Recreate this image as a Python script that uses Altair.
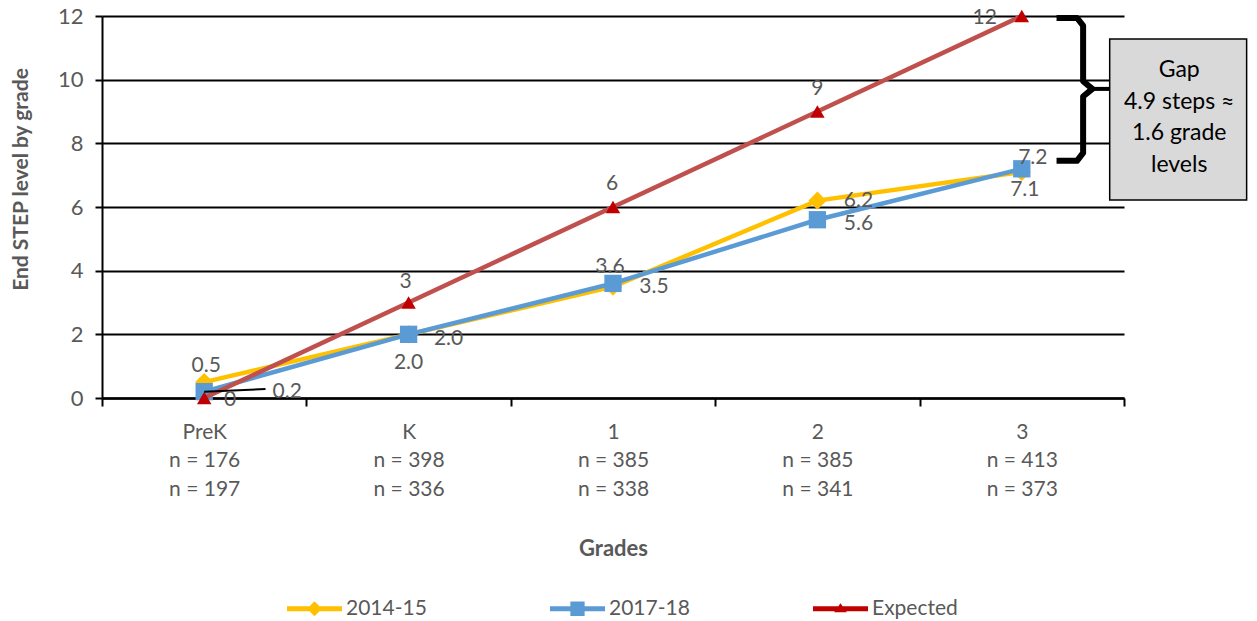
import altair as alt
import pandas as pd

# ---------------- data ----------------
series = ["2014-15", "2017-18", "Expected"]
grades = ["PreK", "K", "1", "2", "3"]
n_2014 = [176, 398, 385, 385, 413]
n_2017 = [197, 336, 338, 341, 373]
v_2014 = [0.5, 2.0, 3.5, 6.2, 7.1]
v_2017 = [0.2, 2.0, 3.6, 5.6, 7.2]
v_exp = [0, 3, 6, 9, 12]
y_ticks = [0, 2, 4, 6, 8, 10, 12]
gap_lines = ["Gap", "4.9 steps \u2248", "1.6 grade", "levels"]

# ---------------- styles ----------------
GRAY = "#595959"
line_colors = ["#FFC000", "#5B9BD5", "#C0504D"]
marker_colors = ["#FFC000", "#5B9BD5", "#C00000"]
marker_shapes = ["diamond", "square", "triangle-up"]
marker_sizes = [330, 300, 210]
# legend symbols: line segment + marker, in the unit box [-1, 1]
LINE_PART = "M-1,-0.09L1,-0.09L1,0.09L-1,0.09Z"
legend_paths = [
    LINE_PART + "M-0.27,0L0,-0.27L0.27,0L0,0.27Z",
    LINE_PART + "M-0.26,-0.26L0.26,-0.26L0.26,0.26L-0.26,0.26Z",
    LINE_PART + "M0,-0.2L0.23,0.13L-0.23,0.13Z",
]
# data-label pixel offsets (dx, dy) per series / grade
label_offsets = {
    "2014-15": [(2, -16), (40, 5), (41, 0), (41, 0), (3, 18)],
    "2017-18": [(83, 0), (0, 29), (-3, -16), (41, 4), (11, -11)],
    "Expected": [(26, 2), (-3, -21), (-1, -23), (0, -23), (-37, 2)],
}
# annotation geometry (in data units)
box_x, box_x2, box_y, box_y2 = 4.43, 5.10, 6.22, 11.28
gap_text_x, gap_text_y = 4.77, 10.30   # position of the first text line
bracket_x = [4.17, 4.27, 4.30, 4.30, 4.345, 4.30, 4.30, 4.27, 4.17]
bracket_y = [11.94, 11.94, 11.70, 9.95, 9.71, 9.47, 7.70, 7.45, 7.45]
connector_x, connector_x2, connector_y = 4.345, 4.43, 9.71
leader_end_x, leader_end_y = 0.30, 0.28

rows = []
for s, vals in zip(series, [v_2014, v_2017, v_exp]):
    for i, (g, v) in enumerate(zip(grades, vals)):
        rows.append({
            "series": s, "idx": i, "grade": g, "value": v,
            "label": f"{v:g}" if s == "Expected" else f"{v:.1f}",
        })
df = pd.DataFrame(rows)

x_scale = alt.Scale(domain=[-0.5, len(grades) - 0.5], nice=False, zero=False)
y_scale = alt.Scale(domain=[0, 12], nice=False, zero=False)

label_expr = (
    "datum.value > %d ? '' : [" % (len(grades) - 1)
    + ",".join("['%s','n = %d','n = %d']" % (g, a, b) for g, a, b in zip(grades, n_2014, n_2017))
    + "][round(datum.value + 0.5)]"
)

x_axis = alt.Axis(
    values=[i - 0.5 for i in range(len(grades) + 1)],
    labelExpr=label_expr, labelOffset=102.2, labelFlush=False, labelOverlap=False,
    labelBound=False, labelFontSize=21, labelColor=GRAY, labelLineHeight=28.5,
    labelPadding=15, labelAlign="center", labelBaseline="top",
    tickSize=8, tickColor="black", tickWidth=2,
    domainColor="black", domainWidth=2.5, grid=False,
    title="Grades", titleFontSize=22, titleFontWeight="bold", titleColor=GRAY, titlePadding=39,
)
y_axis = alt.Axis(
    values=y_ticks, grid=True, gridColor="black", gridWidth=1.8,
    domainColor="black", domainWidth=2, tickColor="black", tickSize=7, tickWidth=2,
    labelFontSize=22, labelColor=GRAY, labelPadding=12,
    title="End STEP level by grade", titleFontSize=21, titleFontWeight="bold",
    titleColor=GRAY, titlePadding=26, titleY=163,
)


def X(field):
    return alt.X(field, scale=x_scale, axis=x_axis)


def Y(field):
    return alt.Y(field, scale=y_scale, axis=y_axis)


base = alt.Chart(df)
layers = []

# series lines and markers
for k, s in enumerate(series):
    sub = base.transform_filter(alt.datum.series == s)
    line = sub.mark_line(color=line_colors[k], strokeWidth=4.5).encode(
        x=X("idx:Q"), y=Y("value:Q"), order="idx:Q",
    )
    pts = sub.mark_point(shape=marker_shapes[k], filled=True, fill=marker_colors[k],
                         size=marker_sizes[k], opacity=1, strokeWidth=0).encode(
        x=X("idx:Q"), y=Y("value:Q"),
    )
    layers += [line, pts]

# leader line for the 0.2 label
leader_df = pd.DataFrame({"idx": [0], "value": [v_2017[0]], "x2": [leader_end_x], "y2": [leader_end_y]})
leader = alt.Chart(leader_df).mark_rule(color="black", strokeWidth=2).encode(
    x=X("idx:Q"), x2="x2:Q", y=Y("value:Q"), y2="y2:Q",
)
layers.append(leader)

# data labels
for s in series:
    for i in range(len(grades)):
        dx, dy = label_offsets[s][i]
        t = base.transform_filter((alt.datum.series == s) & (alt.datum.idx == i)).mark_text(
            dx=dx, dy=dy, fontSize=21, color=GRAY, align="center", baseline="middle",
        ).encode(x=X("idx:Q"), y=Y("value:Q"), text="label:N")
        layers.append(t)

# bracket + gap box
br_df = pd.DataFrame({"idx": bracket_x, "value": bracket_y, "o": list(range(len(bracket_x)))})
bracket = alt.Chart(br_df).mark_line(color="black", strokeWidth=6, strokeJoin="round").encode(
    x=X("idx:Q"), y=Y("value:Q"), order="o:Q",
)
conn_df = pd.DataFrame({"idx": [connector_x], "x2": [connector_x2], "value": [connector_y]})
connector = alt.Chart(conn_df).mark_rule(color="black", strokeWidth=4).encode(
    x=X("idx:Q"), x2="x2:Q", y=Y("value:Q"),
)
box_df = pd.DataFrame({"idx": [box_x], "x2": [box_x2], "value": [box_y], "y2": [box_y2]})
box = alt.Chart(box_df).mark_rect(fill="#D9D9D9", stroke="black", strokeWidth=1.5).encode(
    x=X("idx:Q"), x2="x2:Q", y=Y("value:Q"), y2="y2:Q",
)
gap_df = pd.DataFrame({"idx": [gap_text_x], "value": [gap_text_y], "t": ["\n".join(gap_lines)]})
gap_text = alt.Chart(gap_df).mark_text(
    fontSize=23, color="black", align="center", baseline="middle", lineBreak="\n", lineHeight=31.5,
).encode(x=X("idx:Q"), y=Y("value:Q"), text="t:N")
layers += [bracket, connector, box, gap_text]

# legend carrier (no marks drawn, only the legend)
legend = alt.Legend(
    orient="none", legendX=185, legendY=565, direction="horizontal", columns=3,
    gridAlign="all", columnPadding=118, title=None, labelFontSize=21, labelColor=GRAY,
    labelOffset=4, symbolSize=3025, symbolStrokeWidth=0, padding=0, labelLimit=300,
)
legend_layer = base.transform_filter(alt.datum.idx < 0).mark_point(
    filled=True, size=3025, opacity=1, strokeWidth=0
).encode(
    x=X("idx:Q"), y=Y("value:Q"),
    shape=alt.Shape("series:N", scale=alt.Scale(domain=series, range=legend_paths), legend=legend),
    fill=alt.Fill("series:N", scale=alt.Scale(domain=series, range=marker_colors), legend=legend),
)
layers.append(legend_layer)

chart = alt.layer(*layers).properties(
    width=1022, height=382,
    autosize=alt.AutoSizeParams(type="none"),
    padding={"left": 94, "top": 8, "right": 125, "bottom": 221},
    background="white",
).configure(font="Lato").configure_view(stroke=None)

chart.save("out.html", embed_options={"renderer": "svg", "actions": False})
